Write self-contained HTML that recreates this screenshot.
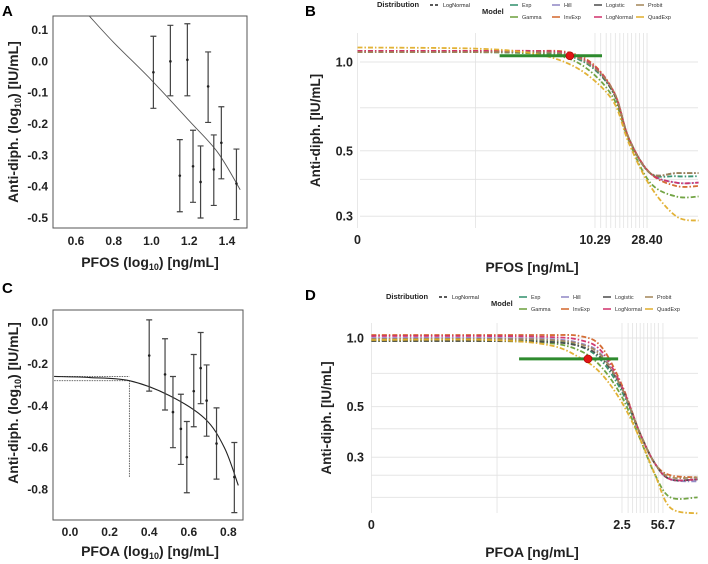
<!DOCTYPE html>
<html><head><meta charset="utf-8"><style>
body{margin:0;background:#fff;}
svg{display:block;font-family:"Liberation Sans",sans-serif;}
</style></head><body>
<svg id="fig" width="708" height="564" viewBox="0 0 708 564" xmlns="http://www.w3.org/2000/svg">
<rect width="708" height="564" fill="#fff"/>
<g id="gA"></g>
<g id="gB"></g>
<g id="gC"></g>
<g id="gD"></g>
</svg>
<script>
// ---------- Panel A data ----------
const aX = [1.01,1.10,1.19,1.30,1.15,1.22,1.26,1.33,1.37,1.45];
const aY = [-0.035,0.0,0.005,-0.08,-0.365,-0.335,-0.385,-0.345,-0.26,-0.39];
const aLo = [-0.15,-0.11,-0.11,-0.195,-0.48,-0.45,-0.50,-0.46,-0.375,-0.505];
const aHi = [0.08,0.115,0.12,0.03,-0.25,-0.22,-0.27,-0.235,-0.145,-0.28];
const aFitX = [0.67,0.8,1.0,1.2,1.35,1.47];
const aFitY = [0.145,0.06,-0.06,-0.19,-0.29,-0.41];
const aXTicks = [0.6,0.8,1.0,1.2,1.4];
const aYTicks = [0.1,0.0,-0.1,-0.2,-0.3,-0.4,-0.5];
// ---------- Panel C data ----------
const cX = [0.40,0.48,0.52,0.56,0.59,0.625,0.66,0.69,0.74,0.83];
const cY = [-0.16,-0.25,-0.43,-0.51,-0.645,-0.33,-0.22,-0.375,-0.58,-0.74];
const cLo = [-0.33,-0.42,-0.60,-0.68,-0.815,-0.50,-0.39,-0.545,-0.75,-0.91];
const cHi = [0.01,-0.08,-0.26,-0.345,-0.475,-0.155,-0.05,-0.205,-0.41,-0.575];
const cFitX = [-0.08,0.1,0.3,0.5,0.68,0.78,0.85];
const cFitY = [-0.26,-0.265,-0.28,-0.35,-0.46,-0.60,-0.78];
const cBmd = [0.3,-0.28,-0.26,-0.74];
const cXTicks = [0.0,0.2,0.4,0.6,0.8];
const cYTicks = [0.0,-0.2,-0.4,-0.6,-0.8];
// ---------- Panel B data (x = log10 dose) ----------
const bL = [-1,0,0.48,0.78,1.0,1.18,1.3,1.48,1.7,1.89];
const bExp = [1.08,1.08,1.07,1.05,0.95,0.77,0.55,0.42,0.41,0.41];
const bGamma = [1.08,1.08,1.07,1.03,0.91,0.74,0.54,0.39,0.35,0.35];
const bHill = [1.09,1.09,1.08,1.06,0.96,0.78,0.55,0.42,0.39,0.39];
const bInvExp = [1.09,1.09,1.09,1.08,0.98,0.78,0.55,0.42,0.38,0.38];
const bLogistic = [1.08,1.08,1.08,1.06,0.96,0.77,0.55,0.42,0.42,0.42];
const bLogNormal = [1.09,1.09,1.09,1.07,0.97,0.78,0.55,0.42,0.39,0.39];
const bProbit = [1.08,1.08,1.08,1.06,0.96,0.78,0.55,0.42,0.42,0.42];
const bQuadExp = [1.12,1.11,1.07,0.99,0.87,0.72,0.53,0.38,0.30,0.29];
const bBmd = [6.3,1.05,1.6,11.8];
const bDoseGrid = [10.29,11.5,12.8,14,15.3,16.7,18,19.5,21,22.8,24.5,26.5,28.4];
// ---------- Panel D data (x = log10 dose) ----------
const dL = [-7.9,-4,-2,-1,-0.3,0.4,1.0,1.5,2.0,2.9];
const dExp = [0.98,0.98,0.97,0.92,0.80,0.58,0.38,0.28,0.24,0.24];
const dGamma = [0.97,0.97,0.95,0.88,0.75,0.55,0.36,0.25,0.20,0.20];
const dHill = [1.0,1.0,0.99,0.95,0.85,0.60,0.38,0.28,0.24,0.235];
const dInvExp = [1.03,1.03,1.03,1.02,0.92,0.62,0.38,0.28,0.25,0.245];
const dLogistic = [0.97,0.97,0.96,0.92,0.82,0.60,0.38,0.28,0.24,0.24];
const dLogNormal = [1.02,1.02,1.01,0.98,0.88,0.61,0.38,0.28,0.24,0.24];
const dProbit = [0.99,0.99,0.98,0.94,0.84,0.60,0.38,0.28,0.245,0.245];
const dQuadExp = [0.98,0.98,0.93,0.82,0.70,0.52,0.36,0.25,0.18,0.17];
const dBmd = [-0.73,0.81,-3.01,0.27];
const dLogGrid = [0.398,0.6,0.75,0.88,1.0,1.12,1.24,1.36,1.48,1.6,1.754];
const modelNames = ["Exp","Gamma","Hill","InvExp","Logistic","LogNormal","Probit","QuadExp"];
const modelColors = ["#2f8f6a","#6a9f3a","#8f86c4","#d2652a","#4a4a4a","#d0306a","#a38658","#e0ae2c"];

const NS="http://www.w3.org/2000/svg";
function mk(parent,tag,attrs,txt){const e=document.createElementNS(NS,tag);for(const k in attrs)e.setAttribute(k,attrs[k]);if(txt!==undefined)e.textContent=txt;parent.appendChild(e);return e;}
function smooth(pts){let d="M"+pts[0][0]+","+pts[0][1];for(let i=0;i<pts.length-1;i++){const p0=pts[Math.max(0,i-1)],p1=pts[i],p2=pts[i+1],p3=pts[Math.min(pts.length-1,i+2)];const c1=[p1[0]+(p2[0]-p0[0])/6,p1[1]+(p2[1]-p0[1])/6],c2=[p2[0]-(p3[0]-p1[0])/6,p2[1]-(p3[1]-p1[1])/6];d+=" C"+c1+" "+c2+" "+p2;}return d;}

// ---------- Panel A ----------
(function(){
const g=document.getElementById('gA');
const sx=v=>76+(v-0.6)/0.2*37.75, sy=v=>30-(v-0.1)/0.1*31.33;
let t=mk(g,'text',{x:2,y:16,'font-size':15,'font-weight':'bold'},'A');

let r=mk(g,'rect',{x:53,y:16,width:194,height:212,fill:'none',stroke:'#555','stroke-width':1});

aXTicks.forEach(v=>{let e=mk(g,'text',{x:sx(v),y:245,'font-size':12,'font-weight':'bold','text-anchor':'middle',fill:'#222'},v.toFixed(1));});
aYTicks.forEach(v=>{let e=mk(g,'text',{x:48,y:sy(v)+4,'font-size':12,'font-weight':'bold','text-anchor':'end',fill:'#222'},v.toFixed(1));});
let fit=mk(g,'path',{d:smooth(aFitX.map((x,i)=>[sx(x),sy(aFitY[i])])),fill:'none',stroke:'#555','stroke-width':0.9});

aX.forEach((x,i)=>{const X=sx(x);let eb=mk(g,'path',{d:`M${X},${sy(aLo[i])}V${sy(aHi[i])}M${X-3},${sy(aLo[i])}h6M${X-3},${sy(aHi[i])}h6`,stroke:'#444','stroke-width':1.2,fill:'none'});let p=mk(g,'circle',{cx:X,cy:sy(aY[i]),r:1.3,fill:'#222'});});
let yt=mk(g,'text',{transform:'translate(18,122) rotate(-90)','font-size':14,'font-weight':'bold','text-anchor':'middle',fill:'#222'});

yt.innerHTML='Anti-diph. (log<tspan font-size="9" dy="3">10</tspan><tspan dy="-3">) [IU/mL]</tspan>';
let xt=mk(g,'text',{x:150,y:267,'font-size':14,'font-weight':'bold','text-anchor':'middle',fill:'#222'});

xt.innerHTML='PFOS (log<tspan font-size="9" dy="3">10</tspan><tspan dy="-3">) [ng/mL]</tspan>';
})();

// ---------- Panel C ----------
(function(){
const g=document.getElementById('gC');
const sx=v=>70+v/0.2*39.6, sy=v=>322-v/0.2*41.9;
let t=mk(g,'text',{x:2,y:293,'font-size':15,'font-weight':'bold'},'C');

let r=mk(g,'rect',{x:53,y:310,width:190,height:210,fill:'none',stroke:'#555','stroke-width':1});

cXTicks.forEach(v=>{let e=mk(g,'text',{x:sx(v),y:536,'font-size':12,'font-weight':'bold','text-anchor':'middle',fill:'#222'},v.toFixed(1));});
cYTicks.forEach(v=>{let e=mk(g,'text',{x:48,y:sy(v)+4,'font-size':12,'font-weight':'bold','text-anchor':'end',fill:'#222'},v.toFixed(1));});
let bm=mk(g,'path',{d:`M${sx(-0.08)},${sy(cBmd[2])}H${sx(cBmd[0])}M${sx(-0.08)},${sy(cBmd[1])}H${sx(cBmd[0])}V${sy(cBmd[3])}`,fill:'none',stroke:'#555','stroke-width':0.9,'stroke-dasharray':'1.5,1'});

let fit=mk(g,'path',{d:smooth(cFitX.map((x,i)=>[sx(x),sy(cFitY[i])])),fill:'none',stroke:'#222','stroke-width':1.1});

cX.forEach((x,i)=>{const X=sx(x);let eb=mk(g,'path',{d:`M${X},${sy(cLo[i])}V${sy(cHi[i])}M${X-3},${sy(cLo[i])}h6M${X-3},${sy(cHi[i])}h6`,stroke:'#444','stroke-width':1.2,fill:'none'});let p=mk(g,'circle',{cx:X,cy:sy(cY[i]),r:1.3,fill:'#222'});});
let yt=mk(g,'text',{transform:'translate(18,403) rotate(-90)','font-size':14,'font-weight':'bold','text-anchor':'middle',fill:'#222'});

yt.innerHTML='Anti-diph. (log<tspan font-size="9" dy="3">10</tspan><tspan dy="-3">) [IU/mL]</tspan>';
let xt=mk(g,'text',{x:150,y:556,'font-size':14,'font-weight':'bold','text-anchor':'middle',fill:'#222'});

xt.innerHTML='PFOA (log<tspan font-size="9" dy="3">10</tspan><tspan dy="-3">) [ng/mL]</tspan>';
})();

// ---------- BMD panels ----------
function bmdPanel(g,o){
  const sx=L=>o.x0+o.k*(L-o.L0), sy=v=>o.y1-o.ky*Math.log10(v);
  let t=mk(g,'text',{x:o.letterX,y:o.letterY,'font-size':15,'font-weight':'bold'},o.letter);
  
  o.hGrid.forEach(v=>{let l=mk(g,'line',{x1:o.left,x2:698,y1:sy(v),y2:sy(v),stroke:'#e6e6e6','stroke-width':1});});
  o.vGrid.forEach(L=>{let l=mk(g,'line',{x1:sx(L),x2:sx(L),y1:o.top,y2:o.bottom,stroke:'#e2e2e2','stroke-width':0.8});});
  o.yTicks.forEach(v=>{let e=mk(g,'text',{x:o.left-7,y:sy(v)+4.5,'font-size':12.5,'font-weight':'bold','text-anchor':'end',fill:'#222'},v.toFixed(1));});
  o.xTicks.forEach((L,i)=>{let e=mk(g,'text',{x:sx(L),y:o.bottom+16,'font-size':12.5,'font-weight':'bold','text-anchor':'middle',fill:'#222'},o.xTickLabels[i]);});
  o.series.forEach((s,i)=>{let p=mk(g,'path',{d:smooth(o.L.map((L,j)=>[sx(L),sy(s[j])])),fill:'none',stroke:modelColors[i],'stroke-width':1.8,'stroke-dasharray':'5,2,1.5,2','opacity':0.95});});
  let bar=mk(g,'line',{x1:sx(o.bmd[2]),x2:sx(o.bmd[3]),y1:sy(o.bmd[1]),y2:sy(o.bmd[1]),stroke:'#2e8b2e','stroke-width':3});
  
  let dot=mk(g,'circle',{cx:sx(o.bmd[0]),cy:sy(o.bmd[1]),r:4,fill:'#e01515',stroke:'#900','stroke-width':0.6});
  
  let yt=mk(g,'text',{transform:`translate(${o.left-40},${(o.top+o.bottom)/2}) rotate(-90)`,'font-size':13.5,'font-weight':'bold','text-anchor':'middle',fill:'#222'},'Anti-diph. [IU/mL]');
  
  let xt=mk(g,'text',{x:532,y:o.bottom+44,'font-size':14,'font-weight':'bold','text-anchor':'middle',fill:'#222'},o.xTitle);
  
  const ly=o.legY;
  let dl=mk(g,'text',{x:o.legX,y:ly+3,'font-size':7.5,'font-weight':'bold',fill:'#222'},'Distribution');
  
  let ds=mk(g,'line',{x1:o.legX+53,x2:o.legX+63,y1:ly+1,y2:ly+1,stroke:'#222','stroke-width':1.5,'stroke-dasharray':'3,2'});
  
  let dt=mk(g,'text',{x:o.legX+66,y:ly+3,'font-size':5.5,fill:'#222'},'LogNormal');
  
  let mt=mk(g,'text',{x:o.modelX,y:ly+10,'font-size':7.5,'font-weight':'bold',fill:'#222'},'Model');
  
  const order=[0,2,4,6,1,3,5,7];
  order.forEach((mi,k)=>{const col=k%4,row=Math.floor(k/4);const x=o.modelX+28+col*o.colW,y=ly+row*12;
    let sw=mk(g,'line',{x1:x,x2:x+8,y1:y+1,y2:y+1,stroke:modelColors[mi],'stroke-width':1.5});
    let tx=mk(g,'text',{x:x+12,y:y+3,'font-size':5.5,fill:'#333'},modelNames[mi]);});
}
bmdPanel(document.getElementById('gB'),{letter:'B',letterX:305,letterY:16,x0:595,k:118,L0:Math.log10(10.29),y1:62,ky:295,left:360,top:33,bottom:228,
 hGrid:[1.0,0.7,0.5,0.4,0.3],vGrid:[-1,0].concat(bDoseGrid.map(d=>Math.log10(d))),yTicks:[1.0,0.5,0.3],
 xTicks:[-1,Math.log10(10.29),Math.log10(28.4)],xTickLabels:['0','10.29','28.40'],L:bL,
 series:[bExp,bGamma,bHill,bInvExp,bLogistic,bLogNormal,bProbit,bQuadExp],
 bmd:[Math.log10(bBmd[0]),bBmd[1],Math.log10(bBmd[2]),Math.log10(bBmd[3])],xTitle:'PFOS [ng/mL]',legY:4,legX:377,modelX:482,colW:42});
bmdPanel(document.getElementById('gD'),{letter:'D',letterX:305,letterY:300,x0:622,k:30.2,L0:0.398,y1:338,ky:228,left:371,top:323,bottom:513,
 hGrid:[1.0,0.7,0.5,0.4,0.3,0.25,0.2],vGrid:[-7.9,-3.74].concat(dLogGrid),yTicks:[1.0,0.5,0.3],
 xTicks:[-7.9,0.398,1.754],xTickLabels:['0','2.5','56.7'],L:dL,
 series:[dExp,dGamma,dHill,dInvExp,dLogistic,dLogNormal,dProbit,dQuadExp],
 bmd:dBmd,xTitle:'PFOA [ng/mL]',legY:296,legX:386,modelX:491,colW:42});
</script>
</body></html>
